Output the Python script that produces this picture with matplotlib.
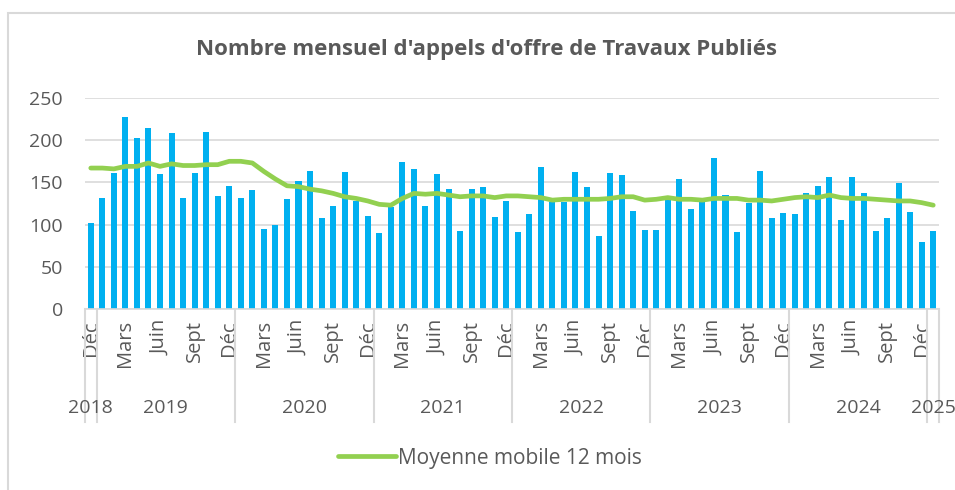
import matplotlib
matplotlib.use("Agg")
import matplotlib.pyplot as plt
from matplotlib.lines import Line2D
from matplotlib.patches import Rectangle
import matplotlib.transforms as mtransforms

# ---- data ----
values_2018 = [102]
values_2019 = [131, 161, 228, 203, 215, 160, 208, 132, 161, 210, 134, 146]
values_2020 = [131, 141, 95, 100, 130, 152, 163, 108, 122, 162, 128, 110]
values_2021 = [90, 121, 174, 166, 122, 160, 142, 92, 142, 144, 109, 128]
values_2022 = [91, 112, 168, 127, 127, 162, 144, 86, 161, 159, 116, 94]
values_2023 = [94, 129, 154, 119, 127, 179, 135, 91, 126, 163, 108, 114]
values_2024 = [112, 137, 146, 156, 106, 156, 137, 92, 108, 149, 115, 79]
values_2025 = [93]

ma_2018 = [167]
ma_2019 = [167, 166, 169, 169, 173, 169, 172, 170, 170, 171, 171, 175]
ma_2020 = [175, 173, 163, 154, 146, 145, 142, 140, 137, 133, 131, 128]
ma_2021 = [124, 123, 131, 137, 136, 137, 135, 133, 134, 134, 132, 134]
ma_2022 = [134, 133, 132, 129, 130, 130, 130, 130, 131, 133, 133, 129]
ma_2023 = [130, 132, 130, 130, 129, 131, 131, 131, 129, 129, 128, 130]
ma_2024 = [132, 133, 132, 135, 132, 131, 131, 130, 129, 128, 128, 126]
ma_2025 = [123]

years = ["2018", "2019", "2020", "2021", "2022", "2023", "2024", "2025"]
month_names = ["Janv", "Févr", "Mars", "Avr", "Mai", "Juin", "Juil", "Août",
               "Sept", "Oct", "Nov", "Déc"]
shown_months = ["Déc", "Mars", "Juin", "Sept"]
title = "Nombre mensuel d'appels d'offre de Travaux Publiés"
legend_label = "Moyenne mobile 12 mois"

values = (values_2018 + values_2019 + values_2020 + values_2021 + values_2022
          + values_2023 + values_2024 + values_2025)
ma = ma_2018 + ma_2019 + ma_2020 + ma_2021 + ma_2022 + ma_2023 + ma_2024 + ma_2025

# month label of each bar
months = ["Déc"] + month_names * 6 + ["Janv"]
year_counts = [1, 12, 12, 12, 12, 12, 12, 1]

# ---- style ----
TXT = "#595959"
GRID = "#D9D9D9"
BAR = "#00B0F0"
LINE = "#92D050"
FONT = "Open Sans"
plt.rcParams["font.family"] = [FONT, "DejaVu Sans"]

W, H = 955, 490
fig = plt.figure(figsize=(W / 100, H / 100), dpi=100)

ax_left, ax_right, ax_top, ax_bot = 85, 939, 98, 309
ax = fig.add_axes([ax_left / W, 1 - ax_bot / H, (ax_right - ax_left) / W,
                   (ax_bot - ax_top) / H])

x = list(range(len(values)))
ax.bar(x, values, width=0.52, color=BAR, zorder=2)
ax.plot(x, ma, color=LINE, lw=3.4, solid_capstyle="round", zorder=3,
        label=legend_label)

ax.set_xlim(-0.5, len(values) - 0.5)
ax.set_ylim(0, 250)
ax.set_yticks([0, 50, 100, 150, 200, 250])
ax.yaxis.grid(True, color=GRID, lw=1.2, zorder=0)
ax.set_axisbelow(True)
for s in ["top", "right", "left"]:
    ax.spines[s].set_visible(False)
ax.spines["bottom"].set_color(GRID)
ax.spines["bottom"].set_linewidth(1.2)
ax.tick_params(axis="y", length=0, pad=16, labelsize=14, labelcolor=TXT)

tick_pos = [i for i, m in enumerate(months) if m in shown_months]
ax.set_xticks(tick_pos)
ax.set_xticklabels([months[i] for i in tick_pos], rotation=90)
ax.tick_params(axis="x", length=0, pad=8, labelsize=14.5, labelcolor=TXT)

# group separators and year labels
trans = mtransforms.blended_transform_factory(ax.transData, ax.transAxes)
axh = ax_bot - ax_top
sep_bottom = -(422 - ax_bot) / axh
year_y = -(408 - ax_bot) / axh
start = 0
bounds = [-0.5]
for yr, n in zip(years, year_counts):
    end = start + n
    bounds.append(end - 0.5)
    center = (start + end - 1) / 2
    ax.text(center, year_y, yr, transform=trans, ha="center", va="center",
            fontsize=14, color=TXT, clip_on=False)
    start = end
for b in bounds:
    ax.add_line(Line2D([b, b], [0, sep_bottom], transform=trans, color=GRID,
                       lw=1.5, clip_on=False))

# title
fig.text(0.5 * (197 + 776) / W, 1 - 49 / H, title, ha="center", va="center",
         fontsize=16, fontweight="bold", color=TXT)

# legend
leg = fig.legend(loc="center", bbox_to_anchor=(490 / W, 1 - 458 / H),
                 frameon=False, fontsize=15, handlelength=2.8,
                 handletextpad=0.1, labelcolor=TXT)

# outer frame
fig.add_artist(Rectangle((8 / W, -0.05), 1.2, 1.05 - 13 / H,
                         transform=fig.transFigure, fill=False,
                         edgecolor=GRID, lw=1.5))

fig.savefig("out.png", dpi=100)
